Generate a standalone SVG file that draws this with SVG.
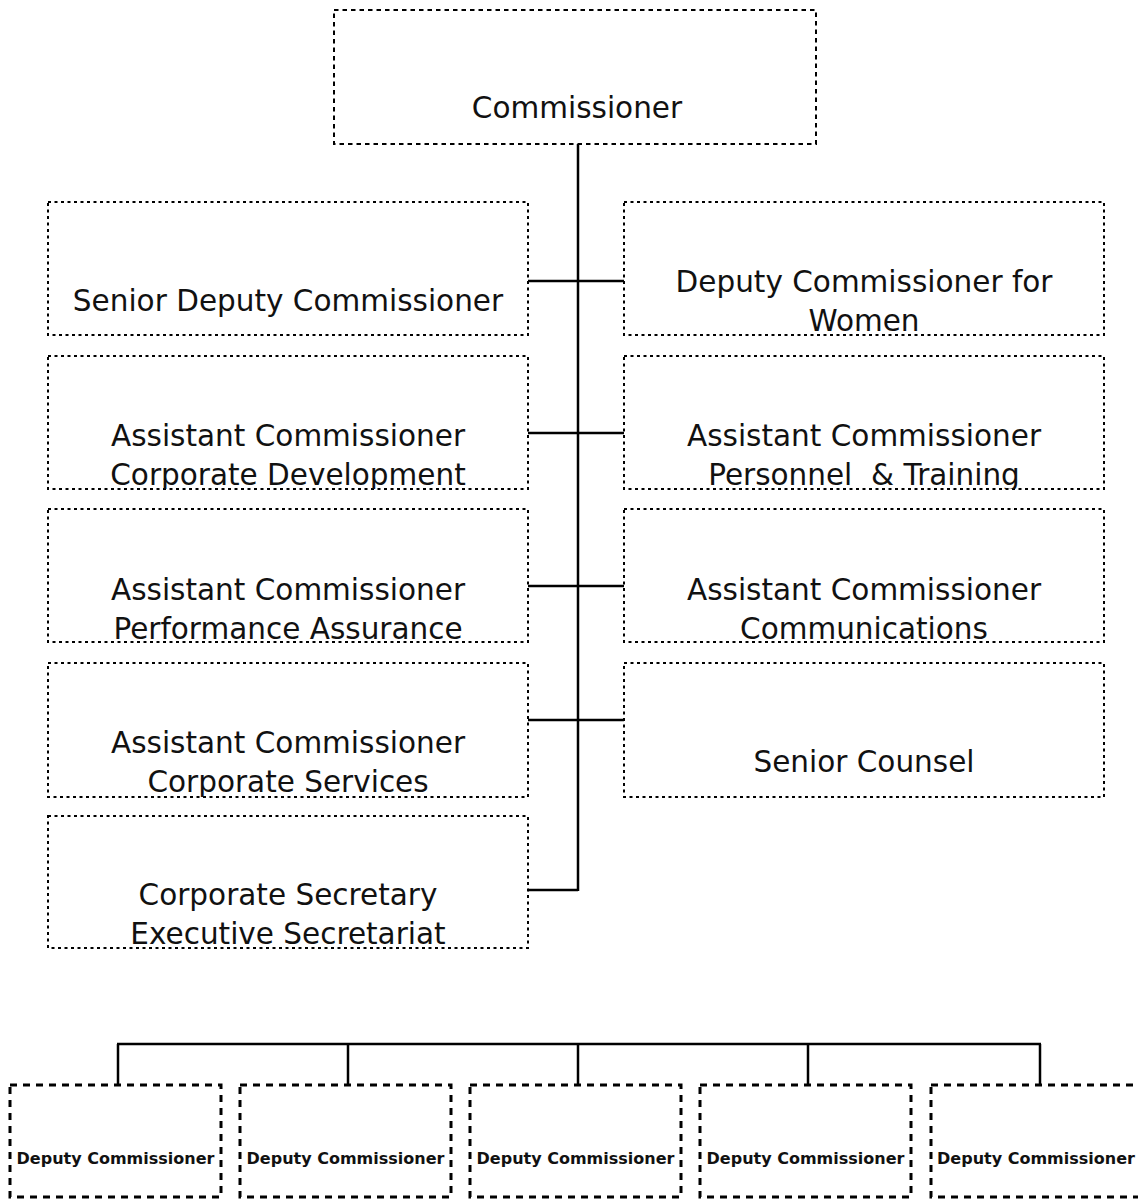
<svg xmlns="http://www.w3.org/2000/svg" width="1138" height="1199" viewBox="0 0 1138 1199">
<style>
.box{fill:#fff;stroke:#000;stroke-width:2;stroke-dasharray:3 3.5}
.top{stroke-dasharray:4.5 4}
.dc{fill:#fff;stroke:#000;stroke-width:3;stroke-dasharray:7 6}
.t{font-family:"DejaVu Sans",sans-serif;font-size:29.5px;fill:#111;text-anchor:middle}
.b{font-family:"DejaVu Sans",sans-serif;font-size:16px;font-weight:bold;fill:#111;text-anchor:middle}
.c{stroke:#000;stroke-width:2.5;fill:none}
</style>
<defs>
<clipPath id="cl1"><rect x="48" y="202" width="480" height="133"/></clipPath>
<clipPath id="cr1"><rect x="624" y="202" width="480" height="133"/></clipPath>
<clipPath id="cl2"><rect x="48" y="356" width="480" height="133"/></clipPath>
<clipPath id="cr2"><rect x="624" y="356" width="480" height="133"/></clipPath>
<clipPath id="cl3"><rect x="48" y="509" width="480" height="133"/></clipPath>
<clipPath id="cr3"><rect x="624" y="509" width="480" height="133"/></clipPath>
<clipPath id="cl4"><rect x="48" y="663" width="480" height="134"/></clipPath>
<clipPath id="cr4"><rect x="624" y="663" width="480" height="134"/></clipPath>
<clipPath id="cl5"><rect x="48" y="816" width="480" height="132"/></clipPath>
</defs>
<rect width="1138" height="1199" fill="#fff"/>
<g id="connectors">
<line class="c" x1="578" y1="144" x2="578" y2="891"/>
<line class="c" x1="528" y1="281" x2="624" y2="281"/>
<line class="c" x1="528" y1="433" x2="624" y2="433"/>
<line class="c" x1="528" y1="586" x2="624" y2="586"/>
<line class="c" x1="528" y1="720" x2="624" y2="720"/>
<line class="c" x1="528" y1="890" x2="578" y2="890"/>
<line class="c" x1="117" y1="1044" x2="1041" y2="1044"/>
<line class="c" x1="118" y1="1044" x2="118" y2="1085"/>
<line class="c" x1="348" y1="1044" x2="348" y2="1085"/>
<line class="c" x1="578" y1="1044" x2="578" y2="1085"/>
<line class="c" x1="808" y1="1044" x2="808" y2="1085"/>
<line class="c" x1="1040" y1="1044" x2="1040" y2="1085"/>
</g>
<g id="commissioner">
<rect class="box top" x="334" y="10" width="482" height="134"/>
<text class="t" x="577" y="118">Commissioner</text>
</g>
<g id="senior-deputy">
<rect class="box" x="48" y="202" width="480" height="133"/>
<text class="t" x="288" y="311" clip-path="url(#cl1)">Senior Deputy Commissioner</text>
</g>
<g id="deputy-women">
<rect class="box" x="624" y="202" width="480" height="133"/>
<g clip-path="url(#cr1)"><text class="t" x="864" y="292">Deputy Commissioner for</text>
<text class="t" x="864" y="331">Women</text></g>
</g>
<g id="ac-corp-dev">
<rect class="box" x="48" y="356" width="480" height="133"/>
<g clip-path="url(#cl2)"><text class="t" x="288" y="446">Assistant Commissioner</text>
<text class="t" x="288" y="485">Corporate Development</text></g>
</g>
<g id="ac-personnel">
<rect class="box" x="624" y="356" width="480" height="133"/>
<g clip-path="url(#cr2)"><text class="t" x="864" y="446">Assistant Commissioner</text>
<text class="t" x="864" y="485" xml:space="preserve">Personnel  &amp; Training</text></g>
</g>
<g id="ac-performance">
<rect class="box" x="48" y="509" width="480" height="133"/>
<g clip-path="url(#cl3)"><text class="t" x="288" y="600">Assistant Commissioner</text>
<text class="t" x="288" y="639">Performance Assurance</text></g>
</g>
<g id="ac-communications">
<rect class="box" x="624" y="509" width="480" height="133"/>
<g clip-path="url(#cr3)"><text class="t" x="864" y="600">Assistant Commissioner</text>
<text class="t" x="864" y="639">Communications</text></g>
</g>
<g id="ac-corp-services">
<rect class="box" x="48" y="663" width="480" height="134"/>
<g clip-path="url(#cl4)"><text class="t" x="288" y="753">Assistant Commissioner</text>
<text class="t" x="288" y="792">Corporate Services</text></g>
</g>
<g id="senior-counsel">
<rect class="box" x="624" y="663" width="480" height="134"/>
<text class="t" x="864" y="772" clip-path="url(#cr4)">Senior Counsel</text>
</g>
<g id="corp-secretary">
<rect class="box" x="48" y="816" width="480" height="132"/>
<g clip-path="url(#cl5)"><text class="t" x="288" y="905">Corporate Secretary</text>
<text class="t" x="288" y="944">Executive Secretariat</text></g>
</g>
<g id="dc1"><rect class="dc" x="10" y="1085" width="211" height="112"/><text class="b" x="115.5" y="1164">Deputy Commissioner</text></g>
<g id="dc2"><rect class="dc" x="240" y="1085" width="211" height="112"/><text class="b" x="345.5" y="1164">Deputy Commissioner</text></g>
<g id="dc3"><rect class="dc" x="470" y="1085" width="211" height="112"/><text class="b" x="575.5" y="1164">Deputy Commissioner</text></g>
<g id="dc4"><rect class="dc" x="700" y="1085" width="211" height="112"/><text class="b" x="805.5" y="1164">Deputy Commissioner</text></g>
<g id="dc5"><rect class="dc" x="931" y="1085" width="211" height="112"/><text class="b" x="1036" y="1164">Deputy Commissioner</text></g>
</svg>
